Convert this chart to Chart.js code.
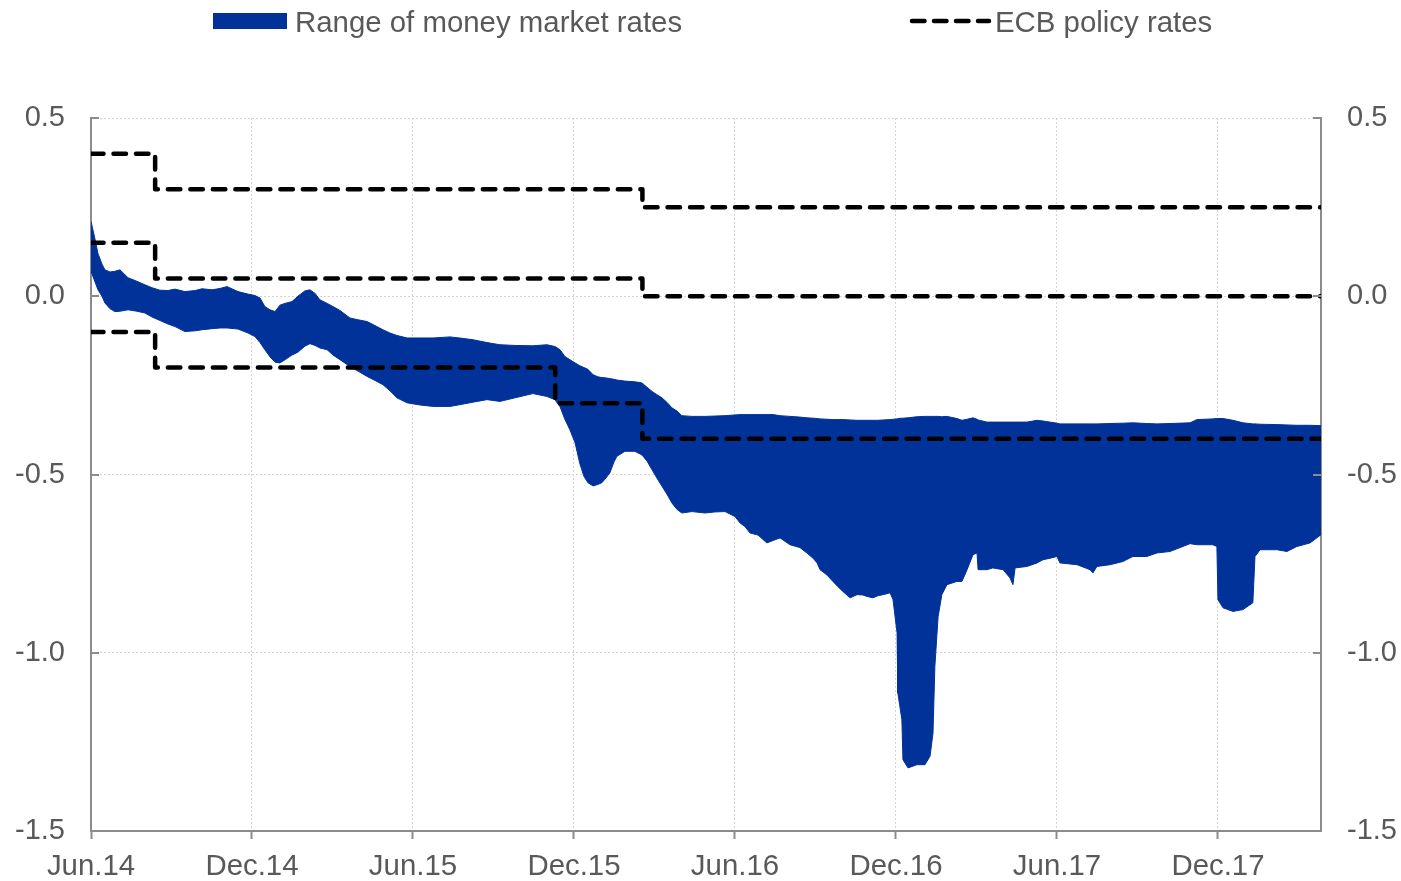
<!DOCTYPE html>
<html><head><meta charset="utf-8">
<script src="https://cdn.jsdelivr.net/npm/chart.js@4.4.0/dist/chart.umd.min.js"></script>
<style>
html,body{margin:0;padding:0;background:#fff;}
#wrap{position:relative;width:1401px;height:881px;overflow:hidden;}
#c{position:absolute;left:0;top:0;}
.leg{position:absolute;font-family:"Liberation Sans",Arial,sans-serif;font-size:29.4px;color:#595959;line-height:1;white-space:nowrap;}
</style></head><body>
<div id="wrap">
<canvas id="c" width="1401" height="881"></canvas>
<div style="position:absolute;left:213px;top:13px;width:74px;height:16px;background:#003299"></div>
<div class="leg" style="left:295px;top:7px">Range of money market rates</div>
<svg style="position:absolute;left:905px;top:11px" width="90" height="20"><line x1="7" y1="10" x2="84" y2="10" stroke="#000" stroke-width="4.5" stroke-linecap="round" stroke-dasharray="12.5 9.5"/></svg>
<div class="leg" style="left:995px;top:7px">ECB policy rates</div>
</div>
<script>
// x positions: months since June 2014
const monthIndex = [0, 0.15, 0.26, 0.41, 0.52, 0.71, 0.89, 1.08, 1.38, 1.71,
 2.01, 2.27, 2.57, 2.87, 3.13, 3.50, 3.88, 4.14, 4.51, 4.81,
 5.07, 5.48, 5.85, 6.11, 6.30, 6.48, 6.67, 6.86, 7.04, 7.23,
 7.49, 7.71, 7.97, 8.16, 8.35, 8.53, 8.80, 9.02, 9.28, 9.65,
 9.95, 10.29, 10.58, 10.88, 11.14, 11.40, 11.78, 12.26, 12.75, 13.38,
 13.83, 14.24, 14.76, 15.24, 15.80, 16.47, 16.99, 17.29, 17.48, 17.66,
 17.85, 18.04, 18.22, 18.37, 18.52, 18.71, 18.89, 19.04, 19.19, 19.34,
 19.49, 19.60, 19.90, 20.27, 20.53, 20.72, 20.91, 21.09, 21.28, 21.47,
 21.65, 21.84, 22.02, 22.40, 22.88, 23.25, 23.63, 24.00, 24.19, 24.37,
 24.56, 24.86, 25.19, 25.42, 25.68, 26.05, 26.42, 26.68, 26.91, 27.06,
 27.17, 27.43, 27.65, 27.84, 28.02, 28.29, 28.55, 28.77, 28.92, 29.14,
 29.33, 29.52, 29.78, 29.89, 30.04, 30.07, 30.22, 30.26, 30.45, 30.78,
 31.08, 31.27, 31.38, 31.45, 31.57, 31.71, 31.90, 32.27, 32.46, 32.65,
 32.87, 33.02, 33.06, 33.39, 33.61, 33.99, 34.25, 34.36, 34.44, 34.88,
 35.26, 35.48, 35.74, 36.00, 36.11, 36.75, 37.23, 37.34, 37.49, 37.98,
 38.46, 38.83, 39.35, 39.73, 40.21, 40.96, 41.22, 41.81, 41.96, 42.00,
 42.19, 42.56, 42.93, 43.30, 43.38, 43.57, 44.20, 44.57, 44.94, 45.43,
 45.84];
// upper bound of money market rates (%)
const upperRate = [0.21, 0.16, 0.12, 0.09, 0.074, 0.068, 0.07, 0.074, 0.052, 0.042,
 0.032, 0.024, 0.017, 0.016, 0.02, 0.013, 0.016, 0.021, 0.018, 0.022,
 0.027, 0.013, 0.006, 0.002, -0.005, -0.029, -0.038, -0.043, -0.025, -0.02,
 -0.015, 0.0, 0.015, 0.018, 0.008, -0.01, -0.02, -0.029, -0.04, -0.061,
 -0.066, -0.071, -0.082, -0.094, -0.103, -0.11, -0.117, -0.117, -0.117, -0.114,
 -0.118, -0.122, -0.13, -0.136, -0.138, -0.139, -0.136, -0.141, -0.15, -0.169,
 -0.178, -0.187, -0.195, -0.2, -0.205, -0.22, -0.226, -0.228, -0.229, -0.231,
 -0.233, -0.235, -0.238, -0.24, -0.243, -0.255, -0.267, -0.276, -0.285, -0.298,
 -0.313, -0.322, -0.335, -0.337, -0.337, -0.336, -0.335, -0.333, -0.332, -0.332,
 -0.332, -0.332, -0.332, -0.332, -0.335, -0.337, -0.339, -0.341, -0.342, -0.343,
 -0.344, -0.345, -0.346, -0.346, -0.346, -0.347, -0.348, -0.348, -0.348, -0.348,
 -0.348, -0.347, -0.346, -0.345, -0.344, -0.343, -0.342, -0.342, -0.341, -0.338,
 -0.337, -0.337, -0.337, -0.337, -0.337, -0.338, -0.337, -0.343, -0.348, -0.345,
 -0.341, -0.345, -0.347, -0.353, -0.353, -0.353, -0.353, -0.353, -0.353, -0.353,
 -0.348, -0.35, -0.353, -0.356, -0.358, -0.358, -0.358, -0.358, -0.358, -0.357,
 -0.356, -0.355, -0.357, -0.358, -0.357, -0.355, -0.346, -0.344, -0.343, -0.343,
 -0.343, -0.348, -0.355, -0.358, -0.358, -0.359, -0.36, -0.361, -0.362, -0.362,
 -0.363];
// lower bound of money market rates (%)
const lowerRate = [0.07, 0.04, 0.018, 0.0, -0.019, -0.035, -0.043, -0.042, -0.038, -0.042,
 -0.047, -0.058, -0.068, -0.078, -0.085, -0.099, -0.097, -0.094, -0.091, -0.089,
 -0.089, -0.092, -0.103, -0.113, -0.13, -0.15, -0.17, -0.185, -0.187, -0.178,
 -0.165, -0.157, -0.14, -0.133, -0.138, -0.145, -0.15, -0.165, -0.178, -0.197,
 -0.21, -0.225, -0.236, -0.248, -0.265, -0.285, -0.299, -0.305, -0.309, -0.309,
 -0.303, -0.297, -0.29, -0.295, -0.285, -0.273, -0.281, -0.29, -0.31, -0.345,
 -0.375, -0.411, -0.47, -0.505, -0.523, -0.532, -0.528, -0.523, -0.51, -0.495,
 -0.465, -0.449, -0.435, -0.435, -0.445, -0.462, -0.487, -0.51, -0.533, -0.556,
 -0.58, -0.598, -0.608, -0.604, -0.608, -0.605, -0.604, -0.618, -0.636, -0.646,
 -0.664, -0.67, -0.692, -0.685, -0.678, -0.697, -0.705, -0.72, -0.735, -0.748,
 -0.767, -0.782, -0.80, -0.815, -0.828, -0.846, -0.837, -0.838, -0.842, -0.846,
 -0.84, -0.837, -0.832, -0.851, -0.944, -1.113, -1.188, -1.30, -1.323, -1.314,
 -1.314, -1.29, -1.225, -1.038, -0.899, -0.837, -0.809, -0.80, -0.80, -0.767,
 -0.725, -0.72, -0.767, -0.767, -0.762, -0.767, -0.79, -0.809, -0.762, -0.758,
 -0.748, -0.739, -0.735, -0.73, -0.748, -0.753, -0.767, -0.776, -0.758, -0.753,
 -0.744, -0.73, -0.73, -0.72, -0.716, -0.694, -0.697, -0.697, -0.702, -0.851,
 -0.874, -0.884, -0.879, -0.86, -0.73, -0.711, -0.711, -0.716, -0.702, -0.692,
 -0.669];
// ECB policy rates: change dates (months since June 2014) and levels
const policyDates = [0, 2.39, 17.3, 20.55, 45.84];
const mlfRate = [0.40, 0.30, 0.30, 0.25, 0.25];
const mroRate = [0.15, 0.05, 0.05, 0.00, 0.00];
const dfRate  = [-0.10, -0.20, -0.30, -0.40, -0.40];
const xTickLabels = ["Jun.14","Dec.14","Jun.15","Dec.15","Jun.16","Dec.16","Jun.17","Dec.17"];
const xTickValues = [0, 6, 12, 18, 24, 30, 36, 42];
const yTickValues = [0.5, 0.0, -0.5, -1.0, -1.5];

const FONT = '"Liberation Sans", Arial, sans-serif';
const TXT = '#595959';
const AXIS = '#8c8c8c';
const GRID = '#d4d4d4';
const BLUE = '#003299';

const pts = (xs, ys) => xs.map((x, i) => ({x: x, y: ys[i]}));
const policyStyle = {
  borderColor: '#000', borderWidth: 4.5, borderDash: [12.5, 10], borderCapStyle: 'round',
  borderJoinStyle: 'round', pointRadius: 0, fill: false, stepped: true, order: 0
};

const innerTicks = {
  id: 'innerTicks',
  afterDatasetsDraw(chart) {
    const {ctx, chartArea: a, scales: {y}} = chart;
    ctx.save();
    ctx.strokeStyle = AXIS; ctx.lineWidth = 2;
    yTickValues.forEach(v => {
      const py = Math.round(y.getPixelForValue(v));
      ctx.beginPath();
      ctx.moveTo(a.left, py); ctx.lineTo(a.left + 8, py);
      ctx.moveTo(a.right, py); ctx.lineTo(a.right - 8, py);
      ctx.stroke();
    });
    ctx.restore();
  }
};

new Chart(document.getElementById('c'), {
  type: 'line',
  data: {
    datasets: [
      Object.assign({label: 'MLF', data: pts(policyDates, mlfRate)}, policyStyle),
      Object.assign({label: 'MRO', data: pts(policyDates, mroRate)}, policyStyle),
      Object.assign({label: 'DF', data: pts(policyDates, dfRate)}, policyStyle),
      {label: 'lower', data: pts(monthIndex, lowerRate), borderColor: BLUE, borderWidth: 1,
       pointRadius: 0, fill: false, tension: 0, order: 1},
      {label: 'Range of money market rates', data: pts(monthIndex, upperRate), borderColor: BLUE, borderWidth: 1,
       backgroundColor: BLUE, pointRadius: 0, fill: 3, tension: 0, order: 1}
    ]
  },
  options: {
    responsive: false, animation: false, devicePixelRatio: 1,
    layout: {padding: {top: 118, left: 0, right: 0, bottom: 0}},
    plugins: {legend: {display: false}, tooltip: {enabled: false}},
    scales: {
      x: {
        type: 'linear', min: 0, max: 45.84,
        afterBuildTicks: s => { s.ticks = xTickValues.map(v => ({value: v})); },
        afterFit: s => { s.height = 50; },
        ticks: {autoSkip: false, maxRotation: 0, padding: 10, color: TXT,
          font: {family: FONT, size: 29.4},
          callback: v => xTickLabels[xTickValues.indexOf(v)]},
        grid: {color: GRID, lineWidth: 1, drawTicks: true, tickLength: 8, tickColor: AXIS, tickWidth: 2, tickBorderDash: []},
        border: {display: true, color: AXIS, width: 2, dash: [2, 2]}
      },
      y: {
        position: 'left', min: -1.5, max: 0.5,
        afterBuildTicks: s => { s.ticks = yTickValues.map(v => ({value: v})); },
        afterFit: s => { s.width = 91; },
        ticks: {padding: 26, color: TXT, font: {family: FONT, size: 29}, callback: v => v.toFixed(1)},
        grid: {color: GRID, lineWidth: 1, drawTicks: false},
        border: {display: true, color: AXIS, width: 2, dash: [2, 2]}
      },
      y2: {
        position: 'right', min: -1.5, max: 0.5,
        afterBuildTicks: s => { s.ticks = yTickValues.map(v => ({value: v})); },
        afterFit: s => { s.width = 80; },
        ticks: {padding: 26, color: TXT, font: {family: FONT, size: 29}, callback: v => v.toFixed(1)},
        grid: {drawOnChartArea: false, drawTicks: false},
        border: {display: true, color: AXIS, width: 2}
      }
    }
  },
  plugins: [innerTicks]
});
</script>
</body></html>
